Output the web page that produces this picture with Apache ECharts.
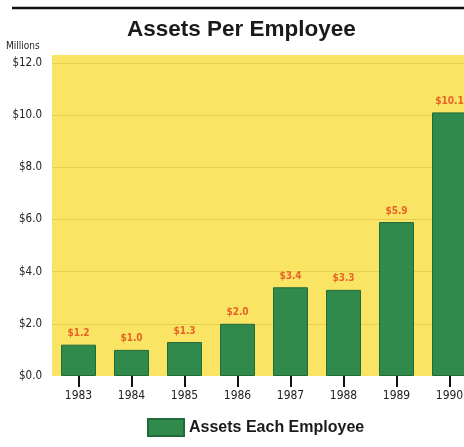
<!DOCTYPE html>
<html>
<head>
<meta charset="utf-8">
<script src="https://cdn.jsdelivr.net/npm/echarts@6/dist/echarts.min.js"></script>
<style>
  html, body { margin: 0; padding: 0; background: #ffffff; }
  #chart { width: 464px; height: 447px; }
</style>
</head>
<body>
<div id="chart"></div>
<script>
// Assets per employee, in millions of dollars
const years = ['1983', '1984', '1985', '1986', '1987', '1988', '1989', '1990'];
const assetsEachEmployee = [1.2, 1.0, 1.3, 2.0, 3.4, 3.3, 5.9, 10.1];
const yTicks = [0, 2, 4, 6, 8, 10, 12];

const narrow = '"Liberation Sans Narrow", "DejaVu Sans Condensed", "Liberation Sans", sans-serif';

const chart = echarts.init(document.getElementById('chart'), null, { renderer: 'canvas' });

chart.setOption({
  backgroundColor: '#ffffff',
  animation: false,
  title: {
    text: 'Assets Per Employee',
    left: 127,
    top: 18,
    padding: 0,
    textStyle: {
      fontFamily: 'Liberation Sans, Arial, sans-serif',
      fontWeight: 'bold',
      fontSize: 22.5,
      color: '#1a1a1a'
    }
  },
  graphic: [
    {
      type: 'line',
      shape: { x1: 12, y1: 8, x2: 464, y2: 8 },
      style: { stroke: '#111111', lineWidth: 2.5 }
    },
    {
      type: 'text',
      left: 6,
      top: 41,
      style: {
        text: 'Millions',
        font: '10px ' + narrow,
        fill: '#222222'
      }
    }
  ],
  legend: {
    left: 142,
    top: 413,
    itemWidth: 36,
    itemHeight: 17,
    itemGap: 9,
    icon: 'rect',
    textStyle: {
      fontFamily: 'Liberation Sans, Arial, sans-serif',
      fontWeight: 'bold',
      fontSize: 16,
      color: '#1a1a1a'
    }
  },
  grid: {
    left: 52,
    right: -12,
    top: 55,
    bottom: 71,
    outerBoundsMode: 'none',
    containLabel: false,
    show: true,
    backgroundColor: '#f9e463',
    borderWidth: 0
  },
  xAxis: {
    type: 'category',
    data: years,
    axisLine: { show: false },
    axisTick: {
      show: true,
      alignWithLabel: true,
      length: 11,
      lineStyle: { color: '#111111', width: 2 }
    },
    axisLabel: {
      margin: 14,
      fontFamily: narrow,
      fontSize: 12,
      color: '#222222'
    }
  },
  yAxis: {
    type: 'value',
    min: yTicks[0],
    max: 12.3,
    interval: 2,
    axisLine: { show: false },
    axisTick: { show: false },
    axisLabel: {
      showMaxLabel: false,
      margin: 10,
      fontFamily: narrow,
      fontSize: 11.5,
      color: '#222222',
      formatter: v => '$' + v.toFixed(1)
    },
    splitLine: {
      show: true,
      showMaxLine: false,
      showMinLine: false,
      lineStyle: { color: 'rgba(190, 160, 40, 0.3)', width: 1 }
    }
  },
  series: [
    {
      name: 'Assets Each Employee',
      type: 'bar',
      data: assetsEachEmployee,
      barCategoryGap: '34%',
      itemStyle: {
        color: '#2f8a4b',
        borderColor: '#216a39',
        borderWidth: 1
      },
      label: {
        show: true,
        position: 'top',
        distance: 6,
        fontFamily: narrow,
        fontWeight: 'bold',
        fontSize: 10,
        color: '#e8632a',
        formatter: p => '$' + p.value.toFixed(1)
      }
    }
  ]
});
</script>
</body>
</html>
